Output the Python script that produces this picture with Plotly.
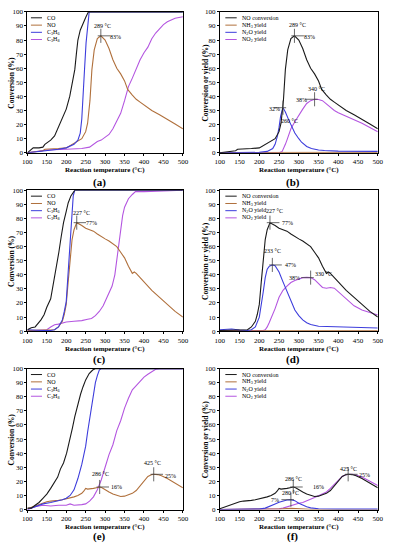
import plotly.graph_objects as go
from plotly.subplots import make_subplots

# ---------------- DATA ----------------
# Panel (a)/(b): catalyst 1
T_CO_a = [100,110,115,130,140,145,150,160,170,176,185,193,200,209,215,222,226,230,236,243,250,257,300,400,500]
CO_a   = [0,2,3.5,3.5,4,6,7,9,12,15.7,21,26,31,40,48,59,70,80,87,92,96,100,100,100,100]
T_C3H6_a = [100,120,140,160,180,200,210,220,230,236,240,243,247,251,255,259,300,400,500]
C3H6_a   = [0,0.5,1.5,2,2.5,3.5,4.5,6,9,14,24,36,59,78,92,100,100,100,100]
T_NO_a = [100,120,140,145,160,180,200,210,220,230,240,250,255,261,266,272,280,289,300,310,320,330,340,350,358,370,380,390,400,420,440,460,480,500]
NO_a   = [0,0.5,1.5,2.5,2.5,3,3.5,5,6.5,8,10,15,21,37,59,73,81,83,80,74,66,60,56,51,45,41,38,36,34,30,27,24,20.5,17]
T_C3H8_a = [100,150,200,240,260,270,280,290,300,310,320,330,340,350,360,370,380,390,400,410,420,430,440,450,460,470,480,490,500]
C3H8_a   = [0,2,2.5,3,4,6,8,9,11,13,17,22,28,37,47,53,60,66,71,75,81,85,88,91,93,94.5,95.5,96,96.5]
T_N2O_b = [100,200,220,234,240,246,250,254,260,266,275,283,290,300,307,320,332,350,365,400,500]
N2O_b   = [0,0.3,1,3,6,12,18,26,32,29,23,18,14,10,7.5,4.5,3,2,1.6,1.2,1]
T_NO2_b = [100,250,258,262,266,270,280,290,300,310,320,330,340,350,360,370,378,390,400,420,440,460,480,500]
NO2_b   = [0,0,1,3,6,9,17,22,27,31,35,37,38,37.8,37,34.5,33,30,28.5,26,24,21,18,15]
T_NH3_b = [100,200,300,400,500]
NH3_b   = [0.2,0.2,0.3,0.3,0.3]

# Panel (c)/(d): catalyst 2
T_CO_c = [100,110,120,126,135,143,150,160,168,175,181,187,193,200,205,212,218,222,300,400,500]
CO_c   = [1,2.5,3,4.7,8,11.7,17,23,35,45,56,67,77,85,91,96,99,100,100,100,100]
T_C3H6_c = [100,120,140,160,170,180,190,195,200,205,210,213,218,222,300,400,500]
C3H6_c   = [1,0.5,0.5,0.5,1,3,8,14,21,42,63,80,96,100,100,100,100]
T_NO_c = [100,150,170,180,190,195,200,205,210,215,220,227,240,250,260,270,280,290,300,310,320,330,340,350,360,365,370,375,380,390,400,420,440,460,480,500]
NO_c   = [0.5,0.5,1,3,7,12,19,35,52,65,72,77,75,73,72,71,69,67,65.5,64,62,60,56,52,46,43,41,42,41,38,35,29,24,19,14,10]
T_C3H8_c = [100,140,150,160,170,180,190,200,220,240,255,265,275,285,295,300,310,318,325,330,335,340,345,350,360,370,378,400,450,500]
C3H8_c   = [0,0.5,1,3,4.5,5,6,6.5,7,7.5,8.5,9,11,14,18,21,27,32,40,50,62,72,82,88,94,97,99,99,99.5,100]
T_N2O_d = [100,130,150,170,180,190,200,205,210,215,220,225,233,240,250,260,270,280,290,300,310,320,330,350,400,450,500]
N2O_d   = [1,1.5,0.8,0.5,1,3,10,18,28,38,44,46,47,46.5,42,35,28,21,15,11,8,6,4.7,3.5,3,2.5,2.3]
T_NO2_d = [100,200,210,215,220,225,230,240,250,260,270,280,290,300,310,320,330,340,350,360,370,380,390,400,420,440,460,480,500]
NO2_d   = [0,0,0.5,1,3,6,9,16,24,29,32,34.5,36,37,38,38.2,38,36.5,34,31,30.5,31,30.5,28,23,18,15,13,11.5]
T_NH3_d = [100,200,300,400,500]
NH3_d   = [0.2,0.2,0.2,0.2,0.2]

# Panel (e)/(f): catalyst 3
T_CO_e = [100,110,120,130,140,150,160,165,170,178,185,193,201,210,216,222,230,237,243,250,259,268,276,300,400,500]
CO_e   = [1,1,3,5,8,11,15,17,19,23,28.7,33,40,50,58,66,75,82,87,92,96.5,99,100,100,100,100]
T_C3H6_e = [100,120,140,160,180,190,200,210,220,230,240,250,255,260,265,270,275,280,285,290,400,500]
C3H6_e   = [0,2,4,5,6,7,8,10,14,22,32,45,55,64,73,82,90,95,99,100,100,100]
T_NO_e = [100,110,120,130,140,145,150,160,170,180,190,200,210,220,230,240,245,250,255,262,270,278,286,292,300,310,320,330,340,350,360,370,380,390,400,410,420,425,435,445,460,480,500]
NO_e   = [0.5,1.5,2.5,4,5,5.5,5.5,6,6,6.5,7,7.5,8,9,10,11.5,13,15,14.5,14.5,15,15.5,16,15.5,14,12.5,11,10,9.3,9.5,10.5,11.5,13.5,17,20,23.5,24.8,25,24.8,24,22,18.5,15.5]
T_C3H8_e = [100,120,140,160,180,200,210,220,240,250,260,270,280,290,300,310,320,330,340,350,360,370,380,390,400,410,420,430,440,500]
C3H8_e   = [0,2,3,2.5,3,3,4,3,3.5,4,6,9,14,21,30,39,46,56,63,72,79,85,88,91,94,96,98,99.5,100,100]
T_N2O_f = [100,180,200,215,230,240,250,260,270,280,290,300,310,320,330,350,400,500]
N2O_f   = [0,0.2,0.3,1,2.5,4,5.2,6.2,6.8,7,6.3,4.5,3,2,1.2,0.6,0.3,0.3]
T_NO2_f = [100,240,250,260,270,280,290,300,310,320,330,340,350,360,370,380,390,400,410,420,425,435,445,460,480,500]
NO2_f   = [0,0,0.5,1,2,3,3.8,4.5,5,6,7,8.5,9.8,11,12.5,15,18,21,23.5,24.8,25,25,24.5,23,20,17]
T_NH3_f = [100,240,260,280,300,320,340,500]
NH3_f   = [0,0,0.5,0.8,0.7,0.3,0,0]

# peak markers: (panel, T, value, temp-label pos, pct-label pos, horizontal side)
PEAKS = [
    (1, 289, 83, (292, 90), (327, 82.5), +1),
    (2, 289, 83, (296, 90.5), (328, 82), +1),
    (2, 260, 32, (277, 22.5), (238, 31), -1),
    (2, 340, 38, (344, 45.5), (307, 37.5), -1),
    (3, 227, 77, (239, 84), (266, 77), +1),
    (4, 227, 77, (239, 85), (272, 76.5), +1),
    (4, 233, 47, (234, 57), (280, 47), +1),
    (4, 330, 38, (363, 40.5), (288, 38), -1),
    (5, 286, 16, (288, 25), (330, 16), +1),
    (5, 425, 25, (421, 33), (467, 23.5), +1),
    (6, 286, 16, (286, 21.5), (350, 16), +1),
    (6, 280, 7, (279, 11.8), (240, 6.5), -1),
    (6, 425, 25, (426, 28.5), (467, 24.5), +1),
]

C_BLACK = "#1a1a1a"
C_BROWN = "#b0703c"
C_BLUE = "#3d3ddc"
C_PURPLE = "#b456e0"
FONT = "Liberation Serif"

fig = make_subplots(rows=3, cols=2)

def add(row, col, x, y, color):
    fig.add_trace(go.Scatter(x=x, y=y, mode="lines", line=dict(color=color, width=1.1),
                             showlegend=False, hoverinfo="skip"), row=row, col=col)

# left panels: CO, NO, C3H6, C3H8
for r, (tco, co, tno, no, t6, c6, t8, c8) in enumerate([
        (T_CO_a, CO_a, T_NO_a, NO_a, T_C3H6_a, C3H6_a, T_C3H8_a, C3H8_a),
        (T_CO_c, CO_c, T_NO_c, NO_c, T_C3H6_c, C3H6_c, T_C3H8_c, C3H8_c),
        (T_CO_e, CO_e, T_NO_e, NO_e, T_C3H6_e, C3H6_e, T_C3H8_e, C3H8_e)], start=1):
    add(r, 1, t8, c8, C_PURPLE)
    add(r, 1, tno, no, C_BROWN)
    add(r, 1, t6, c6, C_BLUE)
    add(r, 1, tco, co, C_BLACK)

# right panels: NO conversion, NH3, N2O, NO2
for r, (tno, no, t3, nh3, t2, n2o, t4, no2) in enumerate([
        (T_NO_a, NO_a, T_NH3_b, NH3_b, T_N2O_b, N2O_b, T_NO2_b, NO2_b),
        (T_NO_c, NO_c, T_NH3_d, NH3_d, T_N2O_d, N2O_d, T_NO2_d, NO2_d),
        (T_NO_e, NO_e, T_NH3_f, NH3_f, T_N2O_f, N2O_f, T_NO2_f, NO2_f)], start=1):
    add(r, 2, t4, no2, C_PURPLE)
    add(r, 2, t3, nh3, C_BROWN)
    add(r, 2, t2, n2o, C_BLUE)
    add(r, 2, tno, no, C_BLACK)

W, H = 393, 550
xdom = [[23 / W, 183 / W], [221 / W, 383.5 / W]]
ydom = [[1 - 151 / H, 1 - 8 / H], [1 - 332 / H, 1 - 189 / H], [1 - 513 / H, 1 - 370 / H]]

axis_common = dict(showline=True, linecolor="black", linewidth=1, mirror=True,
                   ticks="outside", ticklen=2, tickwidth=1, tickcolor="black",
                   showgrid=False, zeroline=False,
                   tickfont=dict(family=FONT, size=7, color="black"))
layout = {}
for r in range(3):
    for c in range(2):
        i = r * 2 + c + 1
        sfx = "" if i == 1 else str(i)
        layout["xaxis" + sfx] = dict(axis_common, domain=xdom[c], range=[100, 500], dtick=50,
                                     tick0=100, anchor="y" + sfx, ticklabelstandoff=0)
        layout["yaxis" + sfx] = dict(axis_common, domain=ydom[r], range=[0, 100], dtick=10,
                                     tick0=0, anchor="x" + sfx)
fig.update_layout(**layout)

annotations = []
shapes = []

def note(**kw):
    kw.setdefault("xanchor", "center")
    kw.setdefault("yanchor", "middle")
    kw.setdefault("showarrow", False)
    annotations.append(kw)

# legends
leg_left = ["CO", "NO", "C<sub>3</sub>H<sub>6</sub>", "C<sub>3</sub>H<sub>8</sub>"]
leg_right = ["NO conversion", "NH<sub>3</sub> yield", "N<sub>2</sub>O yield", "NO<sub>2</sub> yield"]
leg_colors = [C_BLACK, C_BROWN, C_BLUE, C_PURPLE]
leg_y = [0.958, 0.906, 0.855, 0.804]
for r in range(3):
    for c in range(2):
        i = r * 2 + c + 1
        sfx = "" if i == 1 else str(i)
        labels = leg_left if c == 0 else leg_right
        x0, x1, xt = (0.023, 0.094, 0.115) if c == 0 else (0.035, 0.107, 0.126)
        for lab, col, yy in zip(labels, leg_colors, leg_y):
            shapes.append(dict(type="line", xref="x" + sfx + " domain", yref="y" + sfx + " domain",
                               x0=x0, x1=x1, y0=yy, y1=yy, line=dict(color=col, width=1)))
            note(xref="x" + sfx + " domain", yref="y" + sfx + " domain",
                 x=xt, y=yy, text=lab, xanchor="left",
                 font=dict(family=FONT, size=6, color="black"))

# peak crosshairs and labels
for (i, tp, vp, tpos, ppos, side) in PEAKS:
    sfx = "" if i == 1 else str(i)
    shapes.append(dict(type="line", xref="x" + sfx, yref="y" + sfx, x0=tp, x1=tp,
                       y0=vp - 5, y1=vp + 5, line=dict(color="#444", width=0.8)))
    xa, xb = (tp - 8, tp + 24) if side > 0 else (tp - 24, tp + 8)
    shapes.append(dict(type="line", xref="x" + sfx, yref="y" + sfx, x0=xa, x1=xb,
                       y0=vp, y1=vp, line=dict(color="#444", width=0.8)))
    note(xref="x" + sfx, yref="y" + sfx, x=tpos[0], y=tpos[1], text=f"{tp} °C",
         font=dict(family=FONT, size=6, color="black"))
    note(xref="x" + sfx, yref="y" + sfx, x=ppos[0], y=ppos[1], text=f"{vp}%",
         font=dict(family=FONT, size=6, color="black"))

# axis titles and panel letters
xtitle_y = [168.5, 350.5, 531]
letter_y = [181, 361, 540]
letters = [["(a)", "(b)"], ["(c)", "(d)"], ["(e)", "(f)"]]
ytitles = ["Conversion (%)", "Conversion or yield (%)"]
ytitle_x = [6.5, 206]
letter_x = [97, 296]
for r in range(3):
    for c in range(2):
        xc = (xdom[c][0] + xdom[c][1]) / 2
        note(xref="paper", yref="paper", x=xc, y=1 - xtitle_y[r] / H,
             text="<b>Reaction temperature (°C)</b>",
             font=dict(family=FONT, size=7, color="black"))
        note(xref="paper", yref="paper", x=ytitle_x[c] / W,
             y=(ydom[r][0] + ydom[r][1]) / 2, textangle=-90,
             text="<b>" + ytitles[c] + "</b>",
             font=dict(family=FONT, size=7.5, color="black"))
        note(xref="paper", yref="paper", x=letter_x[c] / W, y=1 - letter_y[r] / H,
             text="<b>" + letters[r][c] + "</b>",
             font=dict(family=FONT, size=11, color="black"))

fig.update_layout(width=W, height=H, margin=dict(l=0, r=0, t=0, b=0),
                  paper_bgcolor="white", plot_bgcolor="white",
                  annotations=annotations, shapes=shapes, showlegend=False,
                  font=dict(family=FONT))
fig.write_html("out.html", config={"displayModeBar": False},
               post_script="document.body.style.margin='0';document.body.style.overflow='hidden';")
